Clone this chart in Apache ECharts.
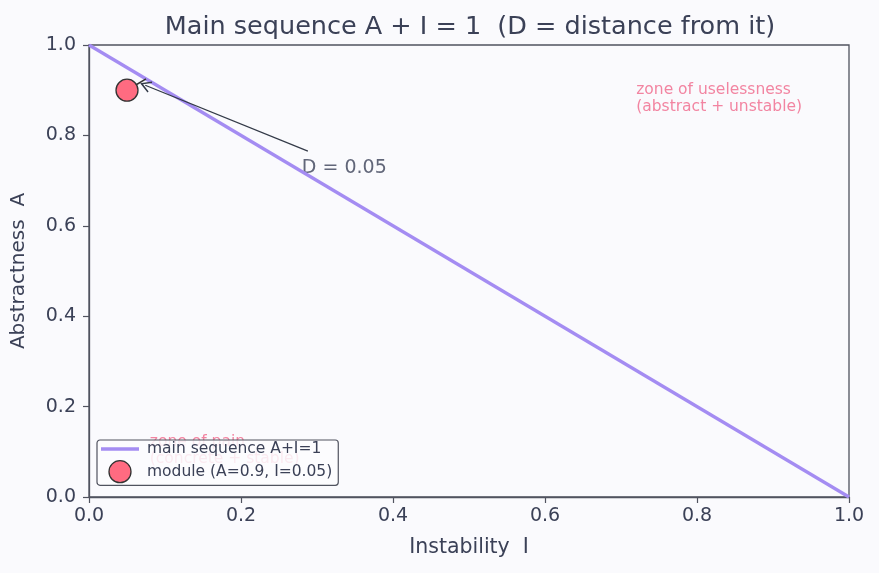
<!DOCTYPE html>
<html>
<head>
<meta charset="utf-8">
<script src="https://cdn.jsdelivr.net/npm/echarts@6/dist/echarts.min.js"></script>
<style>
  html, body { margin: 0; padding: 0; background: #fafafd; }
  #chart { width: 879px; height: 573px; }
</style>
</head>
<body>
<div id="chart"></div>
<script>
// main sequence A + I = 1
var mainSeq = [[0, 1], [1, 0]];
// the module
var modulePoint = [[0.05, 0.9]];
// foot of the perpendicular on the main sequence
var distSeg = [[0.05, 0.9], [0.075, 0.925]];
// annotation arrow (text -> point)
var arrowFrom = [0.288, 0.765];
var arrowTo = [0.074, 0.911];
var dLabel = { pos: [0.28, 0.706], text: 'D = 0.05' };
var zones = [
  { pos: [0.72, 0.843], text: 'zone of uselessness\n(abstract + unstable)' },
  { pos: [0.08, 0.066], text: 'zone of pain\n(concrete + stable)' }
];

var ink = '#3b4157';
var spine = '#50535f';
var purple = '#a48cf2';
var pink = '#ff6b81';
var zoneColor = '#f0678a';
var font = 'DejaVu Sans';
// open "->" arrow head
var openArrow = 'path://M0,0 L6,10 L4.6,10.6 L0,3 L-4.6,10.6 L-6,10 Z';

var chart = echarts.init(document.getElementById('chart'));
var option = {
  backgroundColor: '#fafafd',
  animation: false,
  textStyle: { fontFamily: font },
  title: {
    text: 'Main sequence A + I = 1  (D = distance from it)',
    left: 465, top: 9, textAlign: 'center',
    textStyle: { fontFamily: font, fontSize: 25.5, fontWeight: 'normal', color: ink }
  },
  grid: { left: 89, right: 30, top: 45, bottom: 76, show: true, borderColor: spine, borderWidth: 1.3, backgroundColor: 'transparent' },
  legend: {
    left: 97, top: 440,
    orient: 'vertical',
    itemGap: 3,
    padding: [1, 6, 2, 4],
    backgroundColor: 'rgba(252,252,254,0.85)',
    borderColor: spine, borderWidth: 1.2, borderRadius: 3,
    textStyle: { fontFamily: font, fontSize: 15.5, color: ink, padding: [0, 0, 0, 3] },
    itemWidth: 38, itemHeight: 22,
    z: 10,
    data: [
      { name: 'main sequence A+I=1', icon: 'path://M0,0 L38,0 L38,3.4 L0,3.4 Z', itemStyle: { color: purple } },
      { name: 'module (A=0.9, I=0.05)', icon: 'circle', itemStyle: { color: pink, borderColor: '#333', borderWidth: 1.3 } }
    ]
  },
  xAxis: {
    type: 'value', min: 0, max: 1, interval: 0.2,
    name: 'Instability  I', nameLocation: 'middle', nameGap: 40,
    nameTextStyle: { fontFamily: font, fontSize: 20.5, color: ink },
    axisLine: { show: true, lineStyle: { color: spine, width: 1.3 } },
    axisTick: { show: true, length: 6, lineStyle: { color: spine, width: 1.2 } },
    axisLabel: { fontFamily: font, fontSize: 19, color: ink, margin: 10, formatter: function (v) { return v.toFixed(1); } },
    splitLine: { show: false }
  },
  yAxis: {
    type: 'value', min: 0, max: 1, interval: 0.2,
    name: 'Abstractness  A', nameLocation: 'middle', nameGap: 60, nameRotate: 90,
    nameTextStyle: { fontFamily: font, fontSize: 20, color: ink },
    axisLine: { show: true, lineStyle: { color: spine, width: 1.3 } },
    axisTick: { show: true, length: 6, lineStyle: { color: spine, width: 1.2 } },
    axisLabel: { fontFamily: font, fontSize: 19, color: ink, margin: 13, formatter: function (v) { return v.toFixed(1); } },
    splitLine: { show: false }
  },
  series: [
    {
      name: 'main sequence A+I=1',
      type: 'line',
      data: mainSeq,
      symbol: 'none',
      lineStyle: { color: purple, width: 3.2 },
      itemStyle: { color: purple },
      z: 2
    },
    {
      name: 'dist',
      type: 'line',
      data: distSeg,
      symbol: 'none',
      lineStyle: { color: '#333', width: 1.6 },
      z: 3,
      markLine: {
        silent: true,
        symbol: ['none', openArrow],
        symbolSize: [12, 11],
        label: { show: false },
        lineStyle: { color: '#333a48', width: 1.3, type: 'solid' },
        data: [[{ coord: arrowFrom }, { coord: arrowTo }]]
      }
    },
    {
      name: 'module (A=0.9, I=0.05)',
      type: 'scatter',
      data: modulePoint,
      symbol: 'circle',
      symbolSize: 22,
      itemStyle: { color: pink, borderColor: '#333', borderWidth: 1.3, opacity: 1 },
      z: 4
    },
    {
      name: 'labels',
      type: 'scatter',
      symbolSize: 0,
      silent: true,
      z: 1,
      data: zones.map(function (z) {
        return {
          value: z.pos,
          label: {
            show: true, position: 'inside', formatter: z.text,
            align: 'left', verticalAlign: 'bottom',
            fontFamily: font, fontSize: 15.5, lineHeight: 17, color: zoneColor
          }
        };
      }).concat([{
        value: dLabel.pos,
        label: {
          show: true, position: 'inside', formatter: dLabel.text,
          align: 'left', verticalAlign: 'bottom',
          fontFamily: font, fontSize: 19, color: ink
        }
      }])
    }
  ]
};
chart.setOption(option);
</script>
</body>
</html>
